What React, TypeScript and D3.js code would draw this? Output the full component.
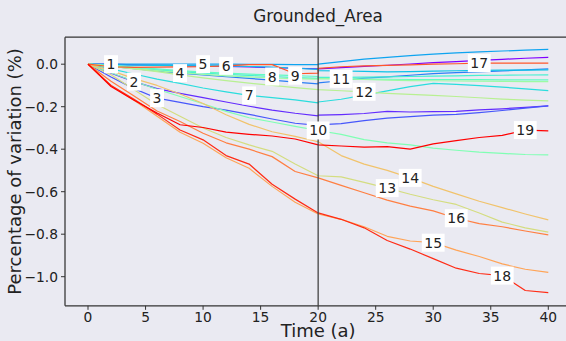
import React from "react";
import * as d3 from "d3";

const TITLE = "Grounded_Area";
const X_LABEL = "Time (a)";
const Y_LABEL = "Percentage of variation (%)";
const X_TICKS = [0, 5, 10, 15, 20, 25, 30, 35, 40];
const Y_TICKS = [0, -0.2, -0.4, -0.6, -0.8, -1.0];
const MARK_TIME = 20;

const TIMES = [0, 2, 4, 6, 8, 10, 12, 14, 16, 18, 20, 20, 22, 24, 26, 28, 30, 32, 34, 36, 38, 40];

const S1 = [0, 0, -0.003, -0.005, -0.007, -0.009, -0.011, -0.013, -0.016, -0.019, -0.022, -0.022, -0.016, -0.01, -0.005, 0.001, 0.007, 0.012, 0.018, 0.023, 0.028, 0.032];
const S2 = [0, -0.042, -0.082, -0.115, -0.137, -0.157, -0.178, -0.198, -0.216, -0.231, -0.243, -0.24, -0.237, -0.232, -0.222, -0.225, -0.223, -0.222, -0.215, -0.21, -0.203, -0.196];
const S3 = [0, -0.06, -0.115, -0.16, -0.18, -0.2, -0.216, -0.236, -0.258, -0.278, -0.288, -0.286, -0.28, -0.266, -0.254, -0.247, -0.24, -0.236, -0.228, -0.218, -0.207, -0.196];
const S4 = [0, -0.01, -0.021, -0.032, -0.042, -0.051, -0.059, -0.067, -0.075, -0.084, -0.093, -0.088, -0.078, -0.066, -0.06, -0.052, -0.044, -0.04, -0.036, -0.032, -0.027, -0.022];
const S5 = [0, 0, 0, 0, 0, 0, 0, -0.001, -0.001, -0.002, -0.002, 0, 0.012, 0.024, 0.032, 0.04, 0.047, 0.053, 0.058, 0.062, 0.066, 0.07];
const S6 = [0, -0.003, -0.005, -0.006, -0.007, -0.008, -0.008, -0.011, -0.014, -0.019, -0.024, -0.03, -0.032, -0.034, -0.036, -0.035, -0.033, -0.031, -0.029, -0.028, -0.028, -0.027];
const S7 = [0, -0.022, -0.046, -0.07, -0.09, -0.112, -0.13, -0.147, -0.157, -0.168, -0.182, -0.178, -0.165, -0.146, -0.126, -0.106, -0.09, -0.095, -0.101, -0.108, -0.116, -0.124];
const S8 = [0, -0.008, -0.018, -0.027, -0.035, -0.042, -0.048, -0.053, -0.058, -0.063, -0.067, -0.062, -0.062, -0.061, -0.06, -0.058, -0.056, -0.055, -0.053, -0.052, -0.051, -0.05];
const S9 = [0, -0.006, -0.014, -0.022, -0.03, -0.037, -0.042, -0.047, -0.05, -0.054, -0.058, -0.065, -0.068, -0.07, -0.071, -0.072, -0.072, -0.073, -0.073, -0.074, -0.074, -0.074];
const S10 = [0, -0.04, -0.08, -0.118, -0.152, -0.186, -0.222, -0.252, -0.272, -0.293, -0.312, -0.312, -0.33, -0.355, -0.37, -0.38, -0.395, -0.405, -0.414, -0.42, -0.425, -0.427];
const S11 = [0, -0.01, -0.02, -0.03, -0.04, -0.048, -0.055, -0.06, -0.065, -0.068, -0.07, -0.068, -0.069, -0.072, -0.075, -0.077, -0.078, -0.079, -0.08, -0.081, -0.082, -0.082];
const S12 = [0, -0.01, -0.022, -0.035, -0.05, -0.064, -0.077, -0.089, -0.1, -0.11, -0.12, -0.12, -0.125, -0.13, -0.137, -0.142, -0.147, -0.152, -0.158, -0.164, -0.169, -0.173];
const S13 = [0, -0.05, -0.12, -0.19, -0.245, -0.3, -0.345, -0.38, -0.41, -0.47, -0.525, -0.525, -0.53, -0.556, -0.583, -0.612, -0.638, -0.66, -0.7, -0.743, -0.77, -0.79];
const S14 = [0, -0.03, -0.068, -0.1, -0.14, -0.185, -0.238, -0.283, -0.318, -0.34, -0.365, -0.365, -0.43, -0.47, -0.5, -0.535, -0.575, -0.61, -0.645, -0.675, -0.705, -0.733];
const S15 = [0, -0.1, -0.17, -0.245, -0.32, -0.372, -0.44, -0.49, -0.575, -0.65, -0.705, -0.705, -0.73, -0.765, -0.81, -0.832, -0.84, -0.875, -0.905, -0.94, -0.965, -0.98];
const S16 = [0, -0.08, -0.15, -0.22, -0.27, -0.325, -0.37, -0.4, -0.435, -0.505, -0.535, -0.535, -0.57, -0.605, -0.64, -0.668, -0.69, -0.725, -0.75, -0.765, -0.785, -0.803];
const S17 = [0, -0.012, -0.015, -0.014, -0.013, -0.012, -0.008, -0.002, -0.002, -0.045, -0.042, -0.02, -0.012, -0.008, -0.006, -0.003, 0, 0.002, 0.005, 0.005, 0.005, 0.005];
const S18 = [0, -0.1, -0.165, -0.235, -0.31, -0.356, -0.43, -0.47, -0.565, -0.635, -0.7, -0.7, -0.73, -0.77, -0.83, -0.87, -0.915, -0.96, -0.985, -0.995, -1.065, -1.075];
const S19 = [0, -0.105, -0.17, -0.23, -0.285, -0.298, -0.32, -0.33, -0.338, -0.352, -0.38, -0.38, -0.385, -0.39, -0.388, -0.4, -0.375, -0.36, -0.345, -0.335, -0.31, -0.314];

const SERIES = [S1, S2, S3, S4, S5, S6, S7, S8, S9, S10, S11, S12, S13, S14, S15, S16, S17, S18, S19];
const LABELS = SERIES.map((_, i) => String(i + 1));
const LABEL_TIMES = SERIES.map((_, i) => 2 * (i + 1));

const W = 566;
const H = 341;
const BG = "#eaeaf2";
const FONT = "DejaVu Sans, sans-serif";
const AX = { left: 65, right: 571.3, top: 37.2, bottom: 305.8 };

function rainbow(t: number) {
  const r = Math.min(1, Math.abs(2 * t - 0.5));
  const g = Math.sin(Math.PI * t);
  const b = Math.cos((Math.PI * t) / 2);
  return d3.rgb(r * 255, g * 255, b * 255).formatHex();
}

export default function App() {
  const x = d3.scaleLinear().domain([-2, 42]).range([AX.left, AX.right]);
  const y = d3.scaleLinear().domain([-1.137, 0.127]).range([AX.bottom, AX.top]);
  const line = d3
    .line<number>()
    .x((_, i) => x(TIMES[i]))
    .y((d) => y(d));
  const n = SERIES.length;
  const fmt = (v: number) => (v < 0 ? "\u2212" : "") + Math.abs(v).toFixed(1);

  return (
    <svg
      width={W}
      height={H}
      style={{ position: "absolute", left: 0, top: 0, background: BG, fontFamily: FONT }}
    >
      <rect x={0} y={0} width={W} height={H} fill={BG} />
      <defs>
        <clipPath id="plotclip">
          <rect x={AX.left} y={AX.top} width={AX.right - AX.left} height={AX.bottom - AX.top} />
        </clipPath>
      </defs>
      <g clipPath="url(#plotclip)">
        {SERIES.map((s, i) => (
          <path
            key={i}
            d={line(s) || ""}
            fill="none"
            stroke={rainbow(i / (n - 1))}
            strokeWidth={1.2}
            strokeLinejoin="round"
          />
        ))}
        <line
          x1={x(MARK_TIME)}
          x2={x(MARK_TIME)}
          y1={AX.top}
          y2={AX.bottom}
          stroke="#444"
          strokeWidth={1.3}
        />
      </g>
      {SERIES.map((s, i) => {
        const t = LABEL_TIMES[i];
        const idx = TIMES.indexOf(t);
        const v = s[idx];
        const cx = x(t);
        const cy = y(v);
        const txt = LABELS[i];
        const w = txt.length * 8.9 + 5;
        return (
          <g key={"l" + i}>
            <rect x={cx - w / 2} y={cy - 9} width={w} height={18} fill="white" />
            <text x={cx} y={cy} textAnchor="middle" dominantBaseline="central" fontSize={14} fill="#222">
              {txt}
            </text>
          </g>
        );
      })}
      <line x1={AX.left} x2={AX.left} y1={AX.top} y2={AX.bottom} stroke="#333" strokeWidth={1.25} />
      <line x1={AX.left} x2={W} y1={AX.top} y2={AX.top} stroke="#333" strokeWidth={1.25} />
      <line x1={AX.left} x2={W} y1={AX.bottom} y2={AX.bottom} stroke="#333" strokeWidth={1.25} />
      {X_TICKS.map((t) => (
        <g key={"x" + t}>
          <line x1={x(t)} x2={x(t)} y1={AX.bottom} y2={AX.bottom + 4} stroke="#333" strokeWidth={1} />
          <text x={x(t)} y={AX.bottom + 16.5} textAnchor="middle" fontSize={13.8} fill="#222">
            {String(t)}
          </text>
        </g>
      ))}
      {Y_TICKS.map((v) => (
        <g key={"y" + v}>
          <line x1={AX.left - 4} x2={AX.left} y1={y(v)} y2={y(v)} stroke="#333" strokeWidth={1} />
          <text x={AX.left - 7} y={y(v)} textAnchor="end" dominantBaseline="central" fontSize={13.8} fill="#222">
            {fmt(v)}
          </text>
        </g>
      ))}
      <text x={318} y={22} textAnchor="middle" fontSize={16.8} fill="#222">
        {TITLE}
      </text>
      <text x={(AX.left + 571.3) / 2} y={337} textAnchor="middle" fontSize={18} fill="#222">
        {X_LABEL}
      </text>
      <text
        transform={`translate(21, ${(AX.top + AX.bottom) / 2}) rotate(-90)`}
        textAnchor="middle"
        fontSize={18}
        fill="#222"
      >
        {Y_LABEL}
      </text>
    </svg>
  );
}
